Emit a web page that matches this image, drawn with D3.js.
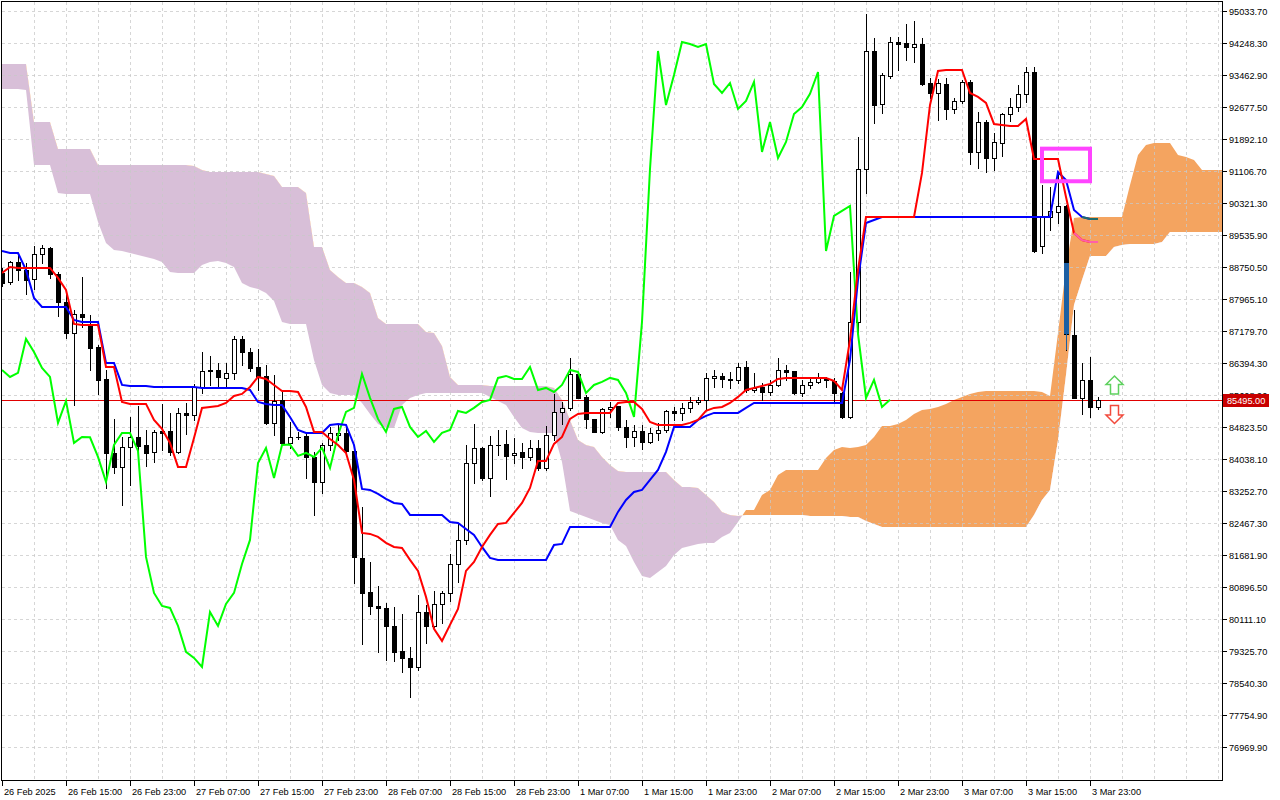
<!DOCTYPE html>
<html><head><meta charset="utf-8">
<script src="https://cdn.jsdelivr.net/npm/d3@7"></script>
<style>
body{margin:0;background:#fff}
svg{display:block}
text{font-family:"Liberation Sans",Arial,sans-serif;font-size:9.2px;fill:#000}
</style>
</head><body>
<svg id="c" width="1280" height="800"></svg>
<script>
// ---- data (BTCUSD H1, Ichimoku) ----
const opens=[88604,88384,88875,88678,88458,89071,89218,88580,87893,87132,
87599,87329,86789,86003,84187,83844,84334,84580,84383,84212,
84727,84727,84212,85169,85120,85807,86200,86224,86028,86151,
86985,86666,86298,86077,84924,85488,84433,84580,84604,84089,
83476,84383,84629,84678,84236,81611,80776,80432,80383,79942,
79328,79157,78936,80285,79942,80482,80752,81463,82052,83942,
84310,83574,84383,84408,84138,84212,84089,84310,83819,84629,
85194,85292,86126,85562,85022,84703,85267,85341,84825,84580,
84727,84457,84678,84752,85218,85169,85292,85439,85488,86028,
86077,85979,85979,86298,85733,85807,85684,85856,86224,86200,
85660,85856,85930,86028,85954,85660,85071,87402,91157,94052,
92752,93439,94273,94249,94151,94224,93267,93022,93243,92629,
92825,93292,91574,92310,91427,91795,92506,92678,93000,93537,
89267,89979,90101,90249,87083,85537,85979,85316];
const highs=[88727,88899,89095,88850,89267,89291,89243,88629,88114,87697,
88507,87574,86838,86224,85022,84580,85071,85341,84752,84752,
85390,85169,85292,85414,85881,86666,86568,86396,86396,87058,
87058,86764,86740,86347,86102,85684,84948,84703,84678,84212,
84433,84825,84874,84874,84261,82862,81513,80923,80506,80408,
80236,79426,80702,80457,80801,80801,81709,82470,84383,84899,
84334,84604,84752,84752,84555,84433,84506,84506,84850,85635,
85439,86519,86175,85611,85022,85292,85439,85341,84997,84874,
84874,84801,84924,85243,85316,85414,85562,85562,86151,86224,
86151,86175,86396,86445,86151,85905,85979,86519,86347,86200,
85979,86052,86151,86052,86028,85684,88629,91942,94960,94371,
93513,94396,94396,94715,94789,94371,93390,93365,93390,92899,
93341,93341,92555,92359,92040,92531,92899,93218,93660,93660,
90764,90715,91059,90273,87697,86396,86543,85562];
const lows=[88286,88335,88433,88089,88212,88850,88482,87549,87009,85365,
87280,86224,85635,83328,83697,82911,83402,83942,83868,83966,
84261,84138,84187,84654,84997,85660,85856,85832,85807,86003,
86347,86200,85733,84899,84629,84408,84310,84531,83574,82666,
83206,84261,84506,84212,80997,79500,80236,79304,79108,79083,
78813,78199,78862,79524,79917,80015,80555,81022,81954,83451,
83525,83132,84138,83549,83942,83819,84016,83770,83770,84506,
84899,85243,85537,84801,84703,84678,85071,84752,84334,84359,
84285,84433,84506,84703,84997,84997,85194,85390,85243,85807,
85807,85783,85905,85684,85684,85488,85610,85832,85979,85635,
85586,85783,85905,85807,85463,85046,85046,87132,90567,92286,
92531,93390,93586,93832,93782,93218,92899,92359,92384,92531,
92776,91280,91181,91083,91132,91476,92335,92580,92801,89120,
89095,89660,89831,86715,85537,85144,85071,85267];
const closes=[88359,88875,88678,88433,89071,89218,88580,87893,87132,87599,
87525,86764,85979,84187,83844,84334,84580,84359,84187,84703,
84678,84212,85169,85120,85807,86200,86224,86052,86151,86985,
86666,86273,86052,84924,85463,84433,84580,84570,84089,83476,
84383,84678,84678,84236,81635,80752,80432,80383,79942,79304,
79157,78936,80285,79942,80482,80752,81463,82052,83942,84310,
83574,84383,84393,84114,84187,84089,84310,83819,84629,85194,
85292,86126,85537,85022,84703,85267,85316,84825,84580,84727,
84457,84678,84752,85218,85169,85292,85439,85488,86028,86077,
86003,86003,86298,85733,85783,85684,85856,86224,86175,85660,
85856,85930,86028,85979,85660,85071,87402,91157,94052,92727,
93464,94273,94224,94151,94224,93243,93022,93267,92629,92825,
93292,91574,92310,91427,91819,92506,92678,93000,93537,89144,
90003,90126,90249,87107,85537,85979,85316,85495];
const tenkan=[88605,88752,88727,88727,88727,88727,88727,88482,88187,87353,
87329,87329,87329,86298,86298,85439,85390,85390,85390,84997,
84776,84433,83844,83844,84555,85292,85316,85341,85414,85586,
85635,85807,86052,86003,85856,85709,85709,85684,85316,84703,
84703,84531,84383,84187,83525,82224,82200,82126,81979,81880,
81856,81562,81292,80654,79869,79574,79967,80359,81292,81513,
81880,82175,82445,82470,82715,82960,83328,83991,83991,84408,
84580,85022,85144,85169,85169,85169,85169,85414,85439,85439,
85267,84948,84874,84874,84874,84874,84924,84997,85218,85292,
85316,85414,85562,85733,85783,85832,85881,86003,86028,86028,
86028,86028,86028,86028,85954,85733,86960,88678,89979,89979,
89979,89979,89979,89979,89979,91059,92727,93562,93586,93586,
93586,93022,92924,92776,92261,92237,92212,92212,92384,91402,
91402,91402,91402,90470,89586,89414,89365,89365];
const kijun=[89144,89095,89095,88678,87991,87770,87770,87770,87770,87451,
87402,87402,87402,86396,86396,85856,85832,85832,85832,85807,
85807,85807,85807,85807,85807,85783,85783,85783,85783,85783,
85783,85733,85439,85390,85365,85365,85071,84752,84678,84678,
84678,84874,84899,84874,84383,83304,83279,83181,83059,82960,
82936,82666,82666,82666,82666,82666,82494,82470,82322,82175,
81880,81611,81562,81562,81562,81562,81562,81562,81562,81929,
81954,82371,82371,82371,82371,82371,82371,82740,83034,83230,
83279,83525,83770,84212,84825,84825,84825,84997,85096,85169,
85169,85169,85169,85292,85414,85414,85414,85414,85414,85414,
85414,85414,85414,85414,85414,85414,86470,88433,89831,89905,
89979,89979,89979,89979,89979,89979,89979,89979,89979,89979,
89979,89979,89979,89979,89979,89979,89979,89979,89979,89979,
89979,89979,91083,90887,90151,89979,89930,89930];
const senkouA=[93120,93120,93120,93095,91255,91255,91255,90568,90543,90543,
90543,90543,89856,89341,89169,89144,89095,89046,88997,88948,
88875,88629,88605,88605,88605,88801,88875,88899,88850,88752,
88359,88261,88212,88114,87918,87402,87353,87353,87353,86470,
85856,85660,85611,85611,85611,85414,85144,84899,84801,84801,
85365,85537,85611,85660,85660,85660,85660,85660,85660,85660,
85660,85562,85463,85365,85071,84801,84703,84678,84678,84678,
83966,82764,82690,82617,82543,82470,82421,82052,81905,81513,
81169,81120,81267,81414,81684,81856,81905,81954,81979,81979,
82126,82224,82494,82789,82789,83157,83279,83648,83770,83770,
83770,83770,83770,84065,84261,84334,84310,84334,84383,84580,
84850,84850,84899,84997,85144,85243,85267,85316,85390,85488,
85562,85635,85684,85709,85709,85709,85709,85709,85709,85709,
85684,85586,87132,88727,89954,89979,89979,89979,89979,89979,
89979,90764,91500,91746,91795,91795,91795,91500,91451,91378,
91132,91132,91132,91132];
const senkouB=[93733,93733,93733,93733,92310,92310,92310,91647,91647,91647,
91647,91647,91255,91255,91255,91255,91255,91255,91255,91255,
91255,91255,91255,91255,91230,91132,91083,91083,91083,91083,
91083,91083,91083,91034,90985,90715,90715,90715,90568,89243,
89243,88678,88507,88359,88359,88261,88114,87500,87353,87353,
87353,87353,87353,87157,87132,86813,86052,85856,85856,85856,
85856,85832,85832,85832,85832,85832,85832,85832,85832,85783,
85488,84997,84506,84383,84334,84089,83893,83746,83721,83721,
83721,83721,83721,83721,83525,83353,83353,83328,83157,82985,
82740,82666,82641,82666,82666,82666,82666,82666,82666,82666,
82666,82641,82641,82641,82641,82641,82617,82617,82519,82445,
82371,82371,82371,82371,82371,82371,82371,82371,82371,82371,
82371,82371,82371,82371,82371,82371,82371,82371,82371,82666,
83034,83279,84506,86102,87819,88433,89022,89022,89022,89243,
89292,89316,89316,89316,89316,89365,89611,89611,89611,89611,
89611,89611,89611,89611];
const chikouShift=26;
const priceTicks=[95033.70,94248.30,93462.90,92677.50,91892.10,91106.70,90321.30,89535.90,
88750.50,87965.10,87179.70,86394.30,85608.90,84823.50,84038.10,83252.70,82467.30,81681.90,
80896.50,80111.10,79325.70,78540.30,77754.90,76969.90];
const timeLabels=["26 Feb 2025","26 Feb 15:00","26 Feb 23:00","27 Feb 07:00","27 Feb 15:00",
"27 Feb 23:00","28 Feb 07:00","28 Feb 15:00","28 Feb 23:00","1 Mar 07:00","1 Mar 15:00",
"1 Mar 23:00","2 Mar 07:00","2 Mar 15:00","2 Mar 23:00","3 Mar 07:00","3 Mar 15:00","3 Mar 23:00"];
const barsPerTimeLabel=8;
const lastPrice=85495.00;
// drawn objects
const boxBars=[130,136], boxPrices=[91655,90855];
const markedBar=133, markedBody=[88850,87107], markedWickLow=86715;
const pinkFrom=134, tealFrom=135;

// ---- chart ----
const W=1280,H=800, L=2, R=1222, T=2, B=780;
const svg=d3.select('#c');
const x=d3.scaleLinear().domain([0,137]).range([2,1098]);
const y=d3.scaleLinear().domain([76969.9,95033.7]).range([747,11]);
const defs=svg.append('defs');
defs.append('clipPath').attr('id','plot').append('rect').attr('x',L).attr('y',T).attr('width',R-L).attr('height',B-T);
const cIdx=d3.range(senkouA.length);
defs.append('clipPath').attr('id','aboveB').append('path')
  .attr('d',d3.area().x(i=>x(i)).y0(0).y1(i=>y(senkouB[i]))(cIdx));
defs.append('clipPath').attr('id','belowB').append('path')
  .attr('d',d3.area().x(i=>x(i)).y0(H).y1(i=>y(senkouB[i]))(cIdx));

const g=svg.append('g').attr('clip-path','url(#plot)');
const between=d3.area().x(i=>x(i)).y0(i=>y(senkouB[i])).y1(i=>y(senkouA[i]));
g.append('g').attr('clip-path','url(#belowB)').append('path').attr('d',between(cIdx)).attr('fill','#D8BFD8');
g.append('g').attr('clip-path','url(#aboveB)').append('path').attr('d',between(cIdx)).attr('fill','#F4A460');

// grid
const grid=g.append('g').attr('stroke','#c8c8c8').attr('stroke-opacity',0.75).attr('stroke-dasharray','3,3').attr('shape-rendering','crispEdges');
for(let i=4;x(i)<R;i+=4){grid.append('line').attr('x1',x(i)+0.5).attr('x2',x(i)+0.5).attr('y1',T).attr('y2',B);}
priceTicks.forEach(v=>{const yy=Math.round(y(v))+0.5;grid.append('line').attr('x1',L).attr('x2',R).attr('y1',yy).attr('y2',yy);});

// price line
const py=Math.round(y(lastPrice))+0.5;
g.append('line').attr('x1',L).attr('x2',R).attr('y1',py).attr('y2',py).attr('stroke','#e00000').attr('stroke-width',1).attr('shape-rendering','crispEdges');

// candles
const cg=g.append('g').attr('shape-rendering','crispEdges');
opens.forEach((o,i)=>{
  const c=closes[i], cx=x(i)+0.5;
  cg.append('line').attr('x1',cx).attr('x2',cx).attr('y1',Math.round(y(highs[i]))).attr('y2',Math.round(y(lows[i]))+1).attr('stroke','#000');
  const yt=Math.round(y(Math.max(o,c))), yb=Math.round(y(Math.min(o,c)));
  if(yb-yt<1){
    cg.append('line').attr('x1',x(i)-2).attr('x2',x(i)+3).attr('y1',yt+0.5).attr('y2',yt+0.5).attr('stroke','#000');
  } else {
    cg.append('rect').attr('x',x(i)-1.5).attr('y',yt+0.5).attr('width',4).attr('height',yb-yt)
      .attr('fill',c>=o?'#fff':'#000').attr('stroke','#000');
  }
});
// marked candle portion
{
  const mx=x(markedBar);
  const y1=Math.round(y(markedBody[0])), y2=Math.round(y(markedBody[1]));
  cg.append('rect').attr('x',mx-2).attr('y',y1).attr('width',5).attr('height',y2-y1).attr('fill','#1c5fa3');
  cg.append('line').attr('x1',mx+0.5).attr('x2',mx+0.5).attr('y1',y2).attr('y2',Math.round(y(markedWickLow))).attr('stroke','#1c5fa3');
}

// ichimoku lines
const line=d3.line().x(d=>x(d[0])).y(d=>y(d[1]));
const pts=a=>a.map((v,i)=>[i,v]);
const chikou=closes.slice(chikouShift).map((v,i)=>[i,v]);
g.append('path').attr('d',line(chikou)).attr('fill','none').attr('stroke','#00ff00').attr('stroke-width',2);
g.append('path').attr('d',line(pts(kijun))).attr('fill','none').attr('stroke','#0000ff').attr('stroke-width',2);
g.append('path').attr('d',line(pts(tenkan))).attr('fill','none').attr('stroke','#ff0000').attr('stroke-width',2);
g.append('path').attr('d',line(pts(tenkan).slice(pinkFrom))).attr('fill','none').attr('stroke','#ff5fa8').attr('stroke-width',2);
g.append('path').attr('d',line(pts(kijun).slice(tealFrom))).attr('fill','none').attr('stroke','#1f6b6b').attr('stroke-width',2);

// box object
g.append('rect').attr('x',x(boxBars[0])).attr('y',y(boxPrices[0])).attr('width',x(boxBars[1])-x(boxBars[0]))
  .attr('height',y(boxPrices[1])-y(boxPrices[0])).attr('fill','none').attr('stroke','#ff44ff').attr('stroke-width',4);

// arrows
const ax=1114.5;
const arrowUp="M0,-9 L8.5,-0.5 L4,-0.5 L4,9 L-4,9 L-4,-0.5 L-8.5,-0.5 Z";
g.append('path').attr('d',arrowUp).attr('transform',`translate(${ax},${py-15.5})`).attr('fill','#fff').attr('stroke','#5ed15e').attr('stroke-width',1.5);
g.append('path').attr('d',arrowUp).attr('transform',`translate(${ax},${py+14}) scale(1,-1)`).attr('fill','#fff').attr('stroke','#f24a3c').attr('stroke-width',1.5);

// axes
const ax2=svg.append('g');
priceTicks.forEach(v=>{
  const yy=Math.round(y(v))+0.5;
  ax2.append('line').attr('x1',R).attr('x2',R+5).attr('y1',yy).attr('y2',yy).attr('stroke','#000').attr('shape-rendering','crispEdges');
  ax2.append('text').attr('x',R+7).attr('y',yy+3.3).text(v.toFixed(2));
});
timeLabels.forEach((t,k)=>{
  const xx=Math.round(x(k*barsPerTimeLabel))+0.5;
  ax2.append('line').attr('x1',xx).attr('x2',xx).attr('y1',B).attr('y2',B+6).attr('stroke','#000').attr('shape-rendering','crispEdges');
  ax2.append('text').attr('x',xx+1.5).attr('y',B+15).text(t);
});
// last price label
ax2.append('rect').attr('x',R+1).attr('y',py-6.5).attr('width',46).attr('height',13).attr('fill','#c80000');
ax2.append('text').attr('x',R+5).attr('y',py+3.5).style('fill','#fff').text(lastPrice.toFixed(2));

// frame
svg.append('rect').attr('x',L-0.5).attr('y',T-0.5).attr('width',R-L+1).attr('height',B-T+1)
  .attr('fill','none').attr('stroke','#000').attr('shape-rendering','crispEdges');
</script>
</body></html>
